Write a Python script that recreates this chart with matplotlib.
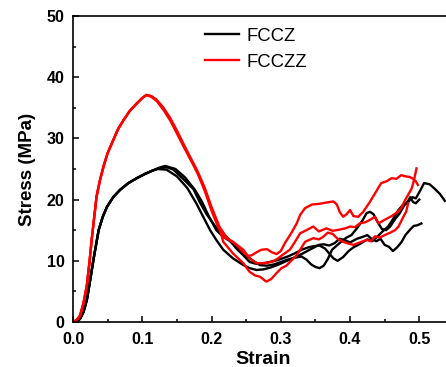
import matplotlib
matplotlib.use("Agg")
import matplotlib.pyplot as plt
from matplotlib.ticker import MultipleLocator
import numpy as np

plt.rcParams['font.family'] = ['Liberation Sans', 'DejaVu Sans']

# ---- data (strain, stress in MPa) ----
# shared loading part of the black (FCCZ) samples
black_rise_x = [0, 0.005, 0.01, 0.015, 0.02, 0.025, 0.03, 0.037, 0.043, 0.049,
                0.058, 0.068, 0.08, 0.092, 0.104, 0.114]
black_rise_y = [0, 0.1, 0.5, 1.6, 3.6, 7.0, 10.5, 15.0, 17.2, 18.8,
                20.4, 21.6, 22.7, 23.5, 24.2, 24.7]

b1_x = [0.124, 0.135, 0.145, 0.159, 0.174, 0.183, 0.193, 0.203, 0.212, 0.222, 0.236, 0.246,
        0.255, 0.265, 0.28, 0.295, 0.31, 0.32, 0.33, 0.34, 0.348, 0.356, 0.364, 0.37,
        0.376, 0.382, 0.39, 0.398, 0.405, 0.415, 0.425, 0.432, 0.44, 0.447, 0.455,
        0.462, 0.47, 0.477, 0.484, 0.49, 0.495, 0.50, 0.507, 0.515, 0.522, 0.53, 0.537]
b1_y = [25.1, 25.3, 24.9, 23.4, 21.7, 19.6, 17.6, 16.0, 14.7, 13.9, 12.0, 10.9,
        9.8, 9.5, 9.7, 10.1, 10.7, 11.2, 11.8, 12.2, 12.4, 12.5, 12.0, 11.2,
        10.4, 10.0, 10.6, 11.6, 12.2, 12.8, 13.5, 13.2, 14.0, 14.8, 15.6,
        16.8, 18.3, 19.2, 19.6, 20.4, 20.2, 21.2, 22.7, 22.5, 21.8, 20.9, 19.8]

b2_x = [0.124, 0.133, 0.148, 0.162, 0.176, 0.186, 0.196, 0.207, 0.217, 0.227, 0.241, 0.25,
        0.26, 0.27, 0.28, 0.29, 0.30, 0.31, 0.32, 0.33, 0.337, 0.344, 0.35, 0.356,
        0.362, 0.368, 0.374, 0.38, 0.388, 0.395, 0.402, 0.41, 0.418, 0.424, 0.429,
        0.434, 0.44, 0.446, 0.452, 0.458, 0.465, 0.472, 0.478, 0.483, 0.487, 0.491,
        0.495, 0.50]
b2_y = [25.2, 25.5, 25.0, 23.6, 21.6, 19.7, 17.3, 15.0, 13.9, 13.2, 11.8, 10.9,
        10.0, 9.3, 9.2, 9.4, 9.8, 10.2, 10.5, 10.7, 10.2, 9.4, 9.0, 8.8,
        9.2, 10.3, 11.8, 12.4, 13.2, 13.8, 14.2, 15.3, 16.6, 17.8, 18.0,
        17.6, 16.3, 15.2, 15.0, 15.6, 16.8, 17.8, 19.0, 19.6, 20.4, 19.6,
        19.4, 20.0]

b3_x = [0.122, 0.135, 0.15, 0.165, 0.178, 0.188, 0.198, 0.207, 0.217, 0.231, 0.246,
        0.255, 0.265, 0.275, 0.285, 0.295, 0.305, 0.315, 0.325, 0.335, 0.345, 0.355,
        0.362, 0.37, 0.378, 0.385, 0.392, 0.40, 0.41, 0.418, 0.425, 0.432, 0.438,
        0.444, 0.45, 0.456, 0.462, 0.468, 0.474, 0.48, 0.486, 0.492, 0.497, 0.503]
b3_y = [25.0, 24.9, 23.8, 21.9, 19.4, 17.2, 15.0, 13.4, 11.8, 10.4, 9.3,
        8.8, 8.5, 8.6, 8.9, 9.3, 9.8, 10.3, 10.8, 11.4, 12.0, 12.6,
        12.7, 12.5, 12.9, 13.6, 13.4, 13.0, 13.6, 13.9, 14.2, 13.5, 13.2,
        13.6, 12.6, 12.3, 11.6, 12.2, 13.0, 14.2, 15.0, 15.7, 15.8, 16.1]

# shared loading part of the red (FCCZZ) samples
red_rise_x = [0, 0.005, 0.01, 0.015, 0.02, 0.024, 0.027, 0.030, 0.034, 0.039, 0.044,
              0.05, 0.058, 0.065, 0.073, 0.082, 0.092, 0.1, 0.106]
red_rise_y = [0, 0.3, 1.0, 3.0, 6.0, 10.0, 13.5, 16.5, 20.5, 23.2, 25.4,
              27.6, 29.7, 31.5, 33.0, 34.5, 35.7, 36.6, 37.1]

r1_x = [0.113, 0.12, 0.13, 0.14, 0.15, 0.16, 0.17, 0.18, 0.19, 0.20, 0.21,
        0.222, 0.236, 0.245, 0.252, 0.258, 0.265, 0.272, 0.28,
        0.287, 0.294, 0.30, 0.306, 0.315, 0.323, 0.328, 0.335, 0.345, 0.355, 0.365,
        0.376, 0.381, 0.385, 0.39, 0.395, 0.40, 0.405, 0.412, 0.419, 0.428, 0.436,
        0.445, 0.453, 0.46, 0.467, 0.474, 0.48, 0.486, 0.491, 0.495, 0.498]
r1_y = [36.9, 36.3, 35.0, 33.2, 31.0, 28.7, 26.5, 24.4, 21.7, 18.4, 15.8,
        13.8, 12.6, 11.5, 10.8, 10.9, 11.4, 11.8, 11.9,
        11.4, 11.1, 11.6, 12.9, 14.5, 16.1, 17.5, 18.6, 19.2, 19.3, 19.5,
        19.7, 19.2, 18.0, 17.2, 17.6, 18.3, 17.3, 17.2, 18.0, 19.5, 21.0,
        22.7, 23.0, 23.5, 23.4, 24.0, 23.8, 23.7, 23.4, 23.0, 22.4]

r2_x = [0.113, 0.121, 0.131, 0.141, 0.151, 0.161, 0.171, 0.181, 0.191, 0.201, 0.21,
        0.217, 0.231, 0.246, 0.255, 0.265, 0.277, 0.289, 0.296, 0.303,
        0.313, 0.32, 0.328, 0.337, 0.347, 0.355, 0.366, 0.375, 0.385, 0.393, 0.40,
        0.407, 0.414, 0.422, 0.429, 0.436, 0.441, 0.45, 0.46, 0.469, 0.474, 0.479,
        0.484, 0.489, 0.492, 0.496]
r2_y = [36.8, 36.1, 34.6, 32.8, 30.6, 28.4, 26.3, 24.0, 21.2, 17.9, 15.4,
        13.9, 13.1, 11.8, 10.4, 9.6, 9.6, 9.9, 10.4, 11.0,
        11.8, 13.0, 14.5, 15.0, 15.6, 14.8, 15.3, 14.9, 15.1, 15.3, 15.6,
        15.5, 16.1, 16.3, 16.7, 17.2, 16.1, 16.7, 17.3, 18.0, 18.6, 19.8,
        20.8, 21.8, 23.0, 25.1]

r3_x = [0.113, 0.12, 0.13, 0.14, 0.15, 0.16, 0.17, 0.18, 0.19, 0.20, 0.21,
        0.217, 0.231, 0.246, 0.255, 0.263, 0.27, 0.279, 0.286,
        0.294, 0.301, 0.308, 0.315, 0.322, 0.328, 0.335, 0.347, 0.355, 0.361, 0.368,
        0.375, 0.382, 0.39, 0.398, 0.405, 0.414, 0.424, 0.43, 0.436, 0.443, 0.45,
        0.458, 0.465, 0.47, 0.474, 0.478, 0.481, 0.484]
r3_y = [36.9, 36.4, 35.1, 33.4, 31.3, 29.0, 26.8, 24.6, 22.0, 18.8, 16.0,
        13.1, 11.2, 9.6, 8.2, 7.6, 7.4, 6.6, 7.0,
        8.0, 8.8, 9.2, 10.0, 10.8, 11.8, 13.1, 13.7, 13.5, 13.9, 14.6,
        14.4, 13.6, 13.1, 12.8, 12.6, 13.0, 13.4, 13.2, 14.0, 13.8, 14.2,
        14.6, 15.0, 15.6, 16.5, 17.4, 18.0, 19.4]

black_tails = [(b1_x, b1_y), (b2_x, b2_y), (b3_x, b3_y)]
red_tails = [(r1_x, r1_y), (r2_x, r2_y), (r3_x, r3_y)]

# ---- figure ----
fig = plt.figure(figsize=(4.46, 3.67), dpi=100)
ax = fig.add_axes([0.1637, 0.1226, 0.854, 0.8338])

lw = 1.7
for i, (tx, ty) in enumerate(black_tails):
    ax.plot(black_rise_x + tx, black_rise_y + ty, color='black', lw=lw,
            label='FCCZ' if i == 0 else None)
for i, (tx, ty) in enumerate(red_tails):
    ax.plot(red_rise_x + tx, red_rise_y + ty, color='#ff0000', lw=lw,
            label='FCCZZ' if i == 0 else None)

ax.set_xlim(0, 0.55)
ax.set_ylim(0, 50)
ax.xaxis.set_major_locator(MultipleLocator(0.1))
ax.xaxis.set_minor_locator(MultipleLocator(0.05))
ax.yaxis.set_major_locator(MultipleLocator(10))
ax.yaxis.set_minor_locator(MultipleLocator(5))
ax.xaxis.set_major_formatter(plt.FuncFormatter(lambda v, p: f"{v:.1f}"))

ax.tick_params(which='both', direction='in', top=False, right=False, width=1.1)
ax.tick_params(which='major', length=4.5, labelsize=11.5, pad=6)
ax.tick_params(which='minor', length=2.5)
ax.tick_params(axis='x', which='major', pad=7)
for lab in ax.get_xticklabels() + ax.get_yticklabels():
    lab.set_fontweight('bold')
for s in ax.spines.values():
    s.set_linewidth(1.2)

ax.set_xlabel('Strain', fontsize=14, fontweight='bold', labelpad=3)
ax.set_ylabel('Stress (MPa)', fontsize=13.5, fontweight='bold', labelpad=8)

ax.legend(loc='upper left', bbox_to_anchor=(0.346, 0.962), frameon=False,
          fontsize=13.3, handlelength=1.85, handletextpad=0.4,
          labelspacing=0.5, borderpad=0, borderaxespad=0)

fig.savefig('out.png', dpi=100)
